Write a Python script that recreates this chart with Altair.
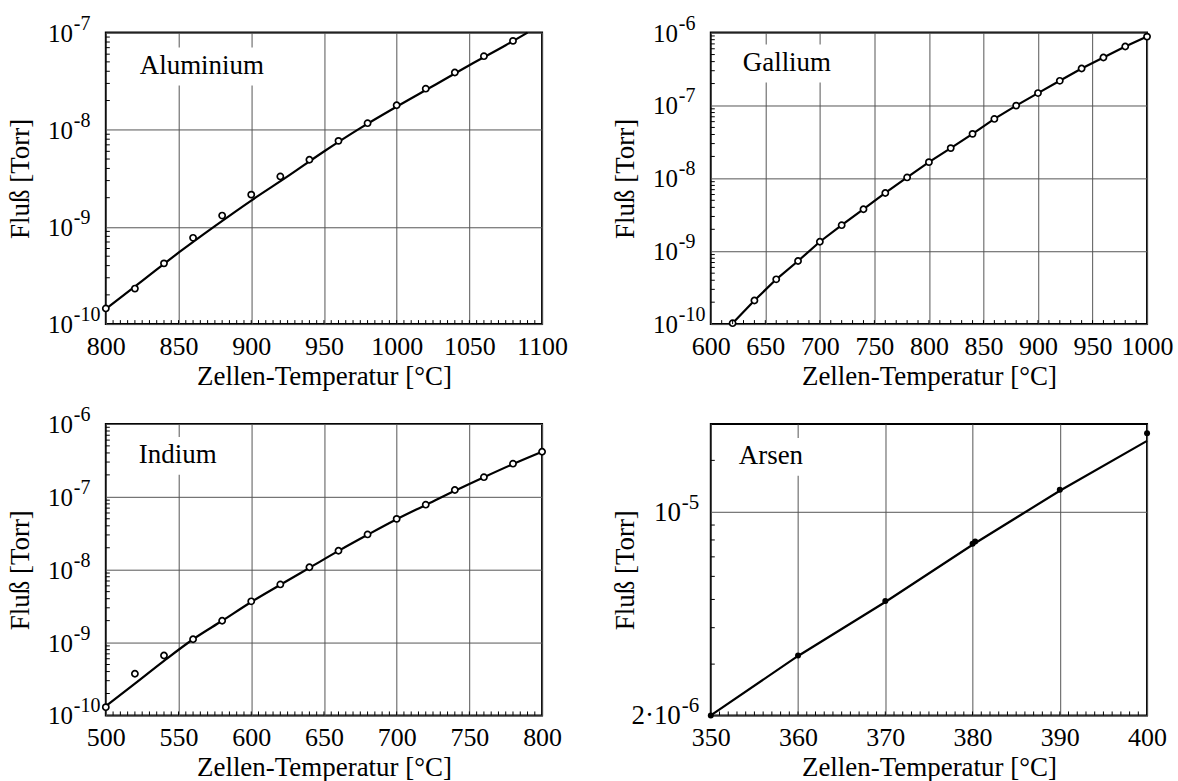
import altair as alt
import pandas as pd

FONT = "Liberation Serif"
W, H = 437, 292

# ---------------- data ----------------
# Aluminium
al_T = [800, 820, 840, 860, 880, 900, 920, 940, 960, 980, 1000, 1020, 1040, 1060, 1080]
al_flux = [1.45e-10, 2.32e-10, 4.22e-10, 7.73e-10, 1.31e-9, 2.15e-9, 3.31e-9, 4.91e-9,
           7.69e-9, 1.17e-8, 1.79e-8, 2.65e-8, 3.89e-8, 5.72e-8, 8.22e-8]
al_fit_T = [800, 825, 850, 875, 900, 925, 950, 975, 1000, 1025, 1050, 1075, 1090]
al_fit = [1.43e-10, 2.78e-10, 5.43e-10, 1.02e-9, 1.87e-9, 3.31e-9, 5.98e-9, 1.04e-8,
          1.73e-8, 2.82e-8, 4.62e-8, 7.41e-8, 1.0e-7]

# Gallium
ga_T = [620, 640, 660, 680, 700, 720, 740, 760, 780, 800, 820, 840, 860, 880, 900,
        920, 940, 960, 980, 1000]
ga_flux = [1.03e-10, 2.11e-10, 4.12e-10, 7.34e-10, 1.35e-9, 2.28e-9, 3.77e-9, 6.30e-9,
           1.03e-8, 1.67e-8, 2.60e-8, 4.08e-8, 6.54e-8, 9.96e-8, 1.48e-7, 2.18e-7,
           3.22e-7, 4.55e-7, 6.44e-7, 8.81e-7]
ga_fit_T = ga_T
ga_fit = ga_flux

# Indium
in_T = [500, 520, 540, 560, 580, 600, 620, 640, 660, 680, 700, 720, 740, 760, 780, 800]
in_flux = [1.30e-10, 3.73e-10, 6.64e-10, 1.11e-9, 1.99e-9, 3.68e-9, 6.28e-9, 1.08e-8,
           1.82e-8, 3.05e-8, 4.98e-8, 7.80e-8, 1.24e-7, 1.86e-7, 2.85e-7, 4.16e-7]
in_fit_T = [500, 520, 540, 560, 580, 600, 620, 640, 660, 680, 700, 720, 740, 760, 780, 800]
in_fit = [1.34e-10, 2.73e-10, 5.61e-10, 1.11e-9, 1.99e-9, 3.61e-9, 6.21e-9, 1.06e-8,
          1.81e-8, 3.01e-8, 4.92e-8, 7.72e-8, 1.21e-7, 1.86e-7, 2.82e-7, 4.16e-7]

# Arsen
as_T = [350, 360, 370, 380, 380.3, 390, 400]
as_flux = [2.0e-6, 3.21e-6, 4.94e-6, 7.76e-6, 7.9e-6, 1.19e-5, 1.86e-5]
as_fit_T = [350, 360, 370, 380, 390, 400]
as_fit = [2.0e-6, 3.2e-6, 4.9e-6, 7.7e-6, 1.18e-5, 1.75e-5]

# axis tick values / labels
al_xticks = [800, 850, 900, 950, 1000, 1050, 1100]
ga_xticks = [600, 650, 700, 750, 800, 850, 900, 950, 1000]
in_xticks = [500, 550, 600, 650, 700, 750, 800]
as_xticks = [350, 360, 370, 380, 390, 400]

al_ydec = [1e-10, 1e-9, 1e-8, 1e-7]
al_ybase = ["10", "10", "10", "10"]
al_yexp = ["-10", "-9", "-8", "-7"]
ga_ydec = [1e-10, 1e-9, 1e-8, 1e-7, 1e-6]
ga_ybase = ["10", "10", "10", "10", "10"]
ga_yexp = ["-10", "-9", "-8", "-7", "-6"]
in_ydec = [1e-10, 1e-9, 1e-8, 1e-7, 1e-6]
in_ybase = ["10", "10", "10", "10", "10"]
in_yexp = ["-10", "-9", "-8", "-7", "-6"]
as_ydec = [2e-6, 1e-5]
as_ybase = ["2·10", "10"]
as_yexp = ["-6", "-5"]

as_yminor = [3e-6, 4e-6, 5e-6, 6e-6, 7e-6, 8e-6, 9e-6, 1.5e-5]


def log_minor(lo_exp, hi_exp):
    return [m * 10.0 ** e for e in range(lo_exp, hi_exp) for m in range(2, 10)]


def panel(name, T, flux, fT, fv, xdom, ydom, xticks, xminor, ydec, ybase, yexp, yminor,
          lab_x, lab_y, box, base_fs, k, filled, line_interp):
    xs = alt.Scale(domain=xdom, nice=False, zero=False)
    ys = alt.Scale(type="log", domain=ydom, nice=False)
    xax = alt.Axis(values=xticks, grid=True, ticks=False, tickSize=0, domain=False,
                   labelPadding=9, labelFlush=False, labelOverlap=False, format="d",
                   title="Zellen-Temperatur [°C]", titlePadding=4,
                   titleFontWeight="normal", titleFontSize=27)
    yax = alt.Axis(values=ydec, grid=True, ticks=False, tickSize=0, domain=False,
                   labels=False, title="Fluß [Torr]", titlePadding=71,
                   titleFontWeight="normal", titleFontSize=27)
    X = alt.X("T:Q", scale=xs, axis=xax)
    Y = alt.Y("v:Q", scale=ys, axis=yax)

    one = pd.DataFrame({"a": [0]})
    bg = alt.Chart(one).mark_rect(fill="white").encode(
        x=alt.value(box[0]), x2=alt.value(box[1]), y=alt.value(box[2]), y2=alt.value(box[3]))
    lab = alt.Chart(one).mark_text(align="left", baseline="alphabetic", font=FONT,
                                   fontSize=27, color="black").encode(
        x=alt.value(lab_x), y=alt.value(lab_y), text=alt.value(name))

    fit_df = pd.DataFrame({"T": fT, "v": fv})
    line = alt.Chart(fit_df).mark_line(color="black", strokeWidth=2.2,
                                       interpolate=line_interp, clip=False).encode(x=X, y=Y)

    pts_df = pd.DataFrame({"T": T, "v": flux})
    if filled:
        pts = alt.Chart(pts_df).mark_point(shape="circle", filled=True, color="black",
                                           size=36, opacity=1).encode(x=X, y=Y)
    else:
        pts = alt.Chart(pts_df).mark_point(shape="circle", filled=True, fill="white",
                                           stroke="black", strokeWidth=1.7, size=38,
                                           opacity=1).encode(x=X, y=Y)

    ymin_df = pd.DataFrame({"v": yminor})
    ymin = alt.Chart(ymin_df).mark_rule(color="black", strokeWidth=1).encode(
        y=Y, x=alt.value(0), x2=alt.value(4))
    xmin_df = pd.DataFrame({"T": xminor})
    xmin = alt.Chart(xmin_df).mark_rule(color="black", strokeWidth=1).encode(
        x=X, y=alt.value(H), y2=alt.value(H - 4))

    lab_df = pd.DataFrame({"v": ydec, "base": ybase, "exp": yexp})
    base_txt = alt.Chart(lab_df).mark_text(align="right", baseline="middle", font=FONT,
                                           fontSize=base_fs, color="black", dy=1).encode(
        y=Y, x=alt.value(-k), text="base:N")
    exp_txt = alt.Chart(lab_df).mark_text(align="left", baseline="middle", font=FONT,
                                          fontSize=round(base_fs * 0.78), color="black",
                                          dy=-9).encode(
        y=Y, x=alt.value(-k + 1), text="exp:N")

    return alt.layer(bg, lab, line, pts, ymin, xmin, base_txt, exp_txt).properties(
        width=W, height=H)


p1 = panel("Aluminium", al_T, al_flux, al_fit_T, al_fit, [800, 1100], [1e-10, 1e-7],
           al_xticks, list(range(805, 1100, 5)), al_ydec, al_ybase, al_yexp,
           log_minor(-10, -7), 34, 41, (27, 166, 15, 53), 25, 33, False, "monotone")
p2 = panel("Gallium", ga_T, ga_flux, ga_fit_T, ga_fit, [600, 1000], [1e-10, 1e-6],
           ga_xticks, list(range(610, 1000, 10)), ga_ydec, ga_ybase, ga_yexp,
           log_minor(-10, -6), 32, 38, (25, 128, 12, 50), 25, 33, False, "linear")
p3 = panel("Indium", in_T, in_flux, in_fit_T, in_fit, [500, 800], [1e-10, 1e-6],
           in_xticks, list(range(505, 800, 5)), in_ydec, in_ybase, in_yexp,
           log_minor(-10, -6), 33, 39, (26, 118, 13, 51), 25, 33, False, "monotone")
p4 = panel("Arsen", as_T, as_flux, as_fit_T, as_fit, [350, 400], [2e-6, 2e-5],
           as_xticks, list(range(351, 400, 1)), as_ydec, as_ybase, as_yexp,
           as_yminor, 28, 40, (21, 100, 14, 52), 27, 30, True, "linear")

chart = alt.concat(p1, p2, p3, p4, columns=2, spacing={"row": 100, "column": 169},
                   bounds="flush").properties(
    padding={"left": 6, "top": 12, "right": 4, "bottom": 2}
).configure(font=FONT).configure_view(
    stroke="black", strokeWidth=2
).configure_axis(
    labelFont=FONT, titleFont=FONT, labelFontSize=26, titleFontSize=27,
    labelColor="black", titleColor="black", titleFontWeight="normal",
    gridColor="#555555", gridWidth=1, gridOpacity=1
)

chart.save("out.html", embed_options={"renderer": "svg", "actions": False})
